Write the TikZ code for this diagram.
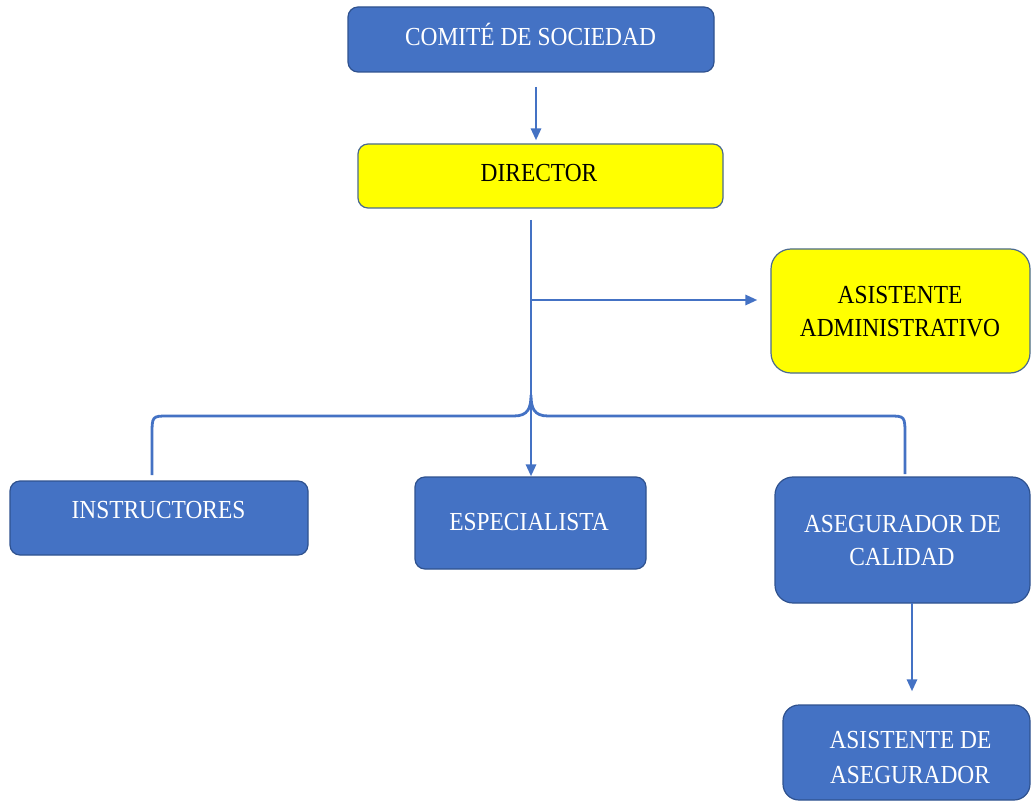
\documentclass[tikz,border=0pt]{standalone}
\usepackage{fontspec}
\setmainfont[FakeStretch=0.9]{Liberation Serif}
\usetikzlibrary{arrows.meta}
\definecolor{bluefill}{HTML}{4472C4}
\definecolor{blueedge}{HTML}{2F528F}
\definecolor{yelfill}{HTML}{FFFF00}
\definecolor{yeledge}{HTML}{4A6A8F}
\definecolor{linecol}{HTML}{4472C4}
\tikzset{
  bluebox/.style={draw=blueedge, fill=bluefill, line width=1.2pt, rounded corners=10pt, inner sep=0pt},
  yelbox/.style={draw=yeledge, fill=yelfill, line width=1.2pt, rounded corners=10pt, inner sep=0pt},
  txt/.style={inner sep=0pt, font=\fontsize{26}{33}\selectfont, text height=17pt, text depth=0pt, anchor=center},
  wtxt/.style={txt, text=white},
  btxt/.style={txt, text=black},
  conn/.style={draw=linecol, line width=2.8pt},
  arr/.style={conn, -{Triangle[length=12pt,width=10pt]}}
}
\begin{document}
\begin{tikzpicture}[x=1pt,y=1pt]
\useasboundingbox (0,0) rectangle (1031,-802);
% boxes
\node[bluebox, minimum width=366pt, minimum height=65pt] (comite) at (531,-39.5) {};
\node[yelbox, minimum width=365pt, minimum height=64pt] (director) at (540.5,-176) {};
\node[yelbox, rounded corners=20pt, minimum width=259pt, minimum height=124pt] (admin) at (900.5,-311) {};
\node[bluebox, minimum width=298pt, minimum height=74pt] (instr) at (159,-518) {};
\node[bluebox, minimum width=231pt, minimum height=92pt] (espec) at (530.5,-523) {};
\node[bluebox, rounded corners=18pt, minimum width=255pt, minimum height=126pt] (asegur) at (902.5,-540) {};
\node[bluebox, rounded corners=16pt, minimum width=247pt, minimum height=95pt] (asist) at (906.5,-752.5) {};
% texts
\node[wtxt] (tcomite) at (530.5,-37.5) {COMITÉ DE SOCIEDAD};
\node[btxt] (tdirector) at (539,-173) {DIRECTOR};
\node[btxt] (tadmina) at (900,-295.5) {ASISTENTE};
\node[btxt] (tadminb) at (900,-328) {ADMINISTRATIVO};
\node[wtxt] (tinstr) at (158.5,-510) {INSTRUCTORES};
\node[wtxt] (tespec) at (529,-522) {ESPECIALISTA};
\node[wtxt] (tasegura) at (902.5,-523.5) {ASEGURADOR DE};
\node[wtxt] (taseguRb) at (902,-557) {CALIDAD};
\node[wtxt] (tasista) at (910.5,-740) {ASISTENTE DE};
\node[wtxt] (tasistb) at (910,-775) {ASEGURADOR};
% connectors
\coordinate (c1) at (536,-87);
\draw[arr, shorten >=3pt] (c1) -- (c1 |- director.north);
\coordinate (d1) at (531,-220);
\coordinate (cusp) at (531,-395);
\coordinate (b1) at (531,-300);
\draw[conn] (d1) -- (cusp);
\draw[arr, shorten >=13pt] (b1) -- (b1 -| admin.west);
\coordinate (bl) at (152,-475);
\coordinate (br) at (905,-474);
\draw[conn] (bl) -- (152,-436) .. controls (152,-416) .. (168,-416) -- (514,-416)
  .. controls (528,-416) and (531,-408) .. (cusp)
  .. controls (531,-408) and (534,-416) .. (548,-416) -- (889,-416)
  .. controls (905,-416) .. (905,-436) -- (br);
\draw[arr] (cusp) -- (cusp |- espec.north);
\coordinate (a1) at (912,-603);
\draw[arr, shorten >=13pt] (a1) -- (a1 |- asist.north);
\end{tikzpicture}
\end{document}
